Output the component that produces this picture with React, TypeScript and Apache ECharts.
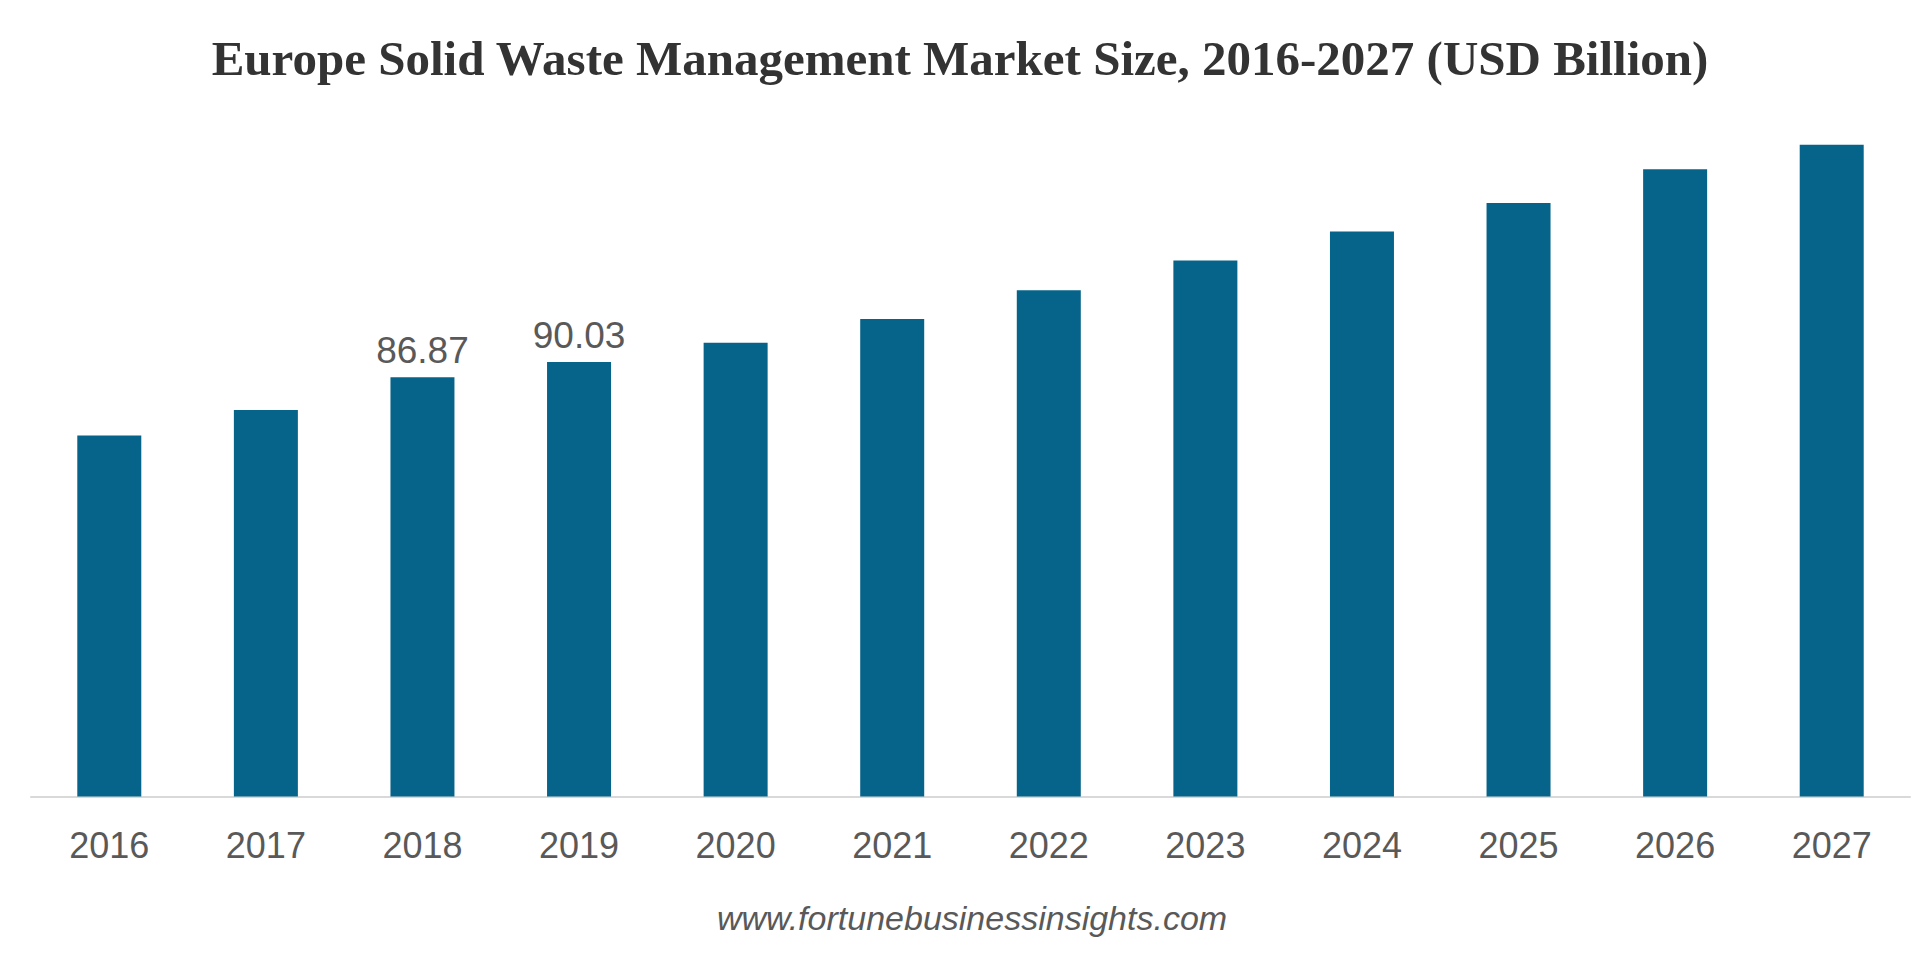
import React, { useEffect, useRef } from "react";
import * as echarts from "echarts";

const years = ["2016", "2017", "2018", "2019", "2020", "2021", "2022", "2023", "2024", "2025", "2026", "2027"];
const marketSize = [74.84, 80.1, 86.87, 90.03, 94.03, 98.94, 104.9, 111.1, 117.1, 123.0, 130.0, 135.1];
const labeledYears = ["2018", "2019"];
const titleText = "Europe Solid Waste Management Market Size, 2016-2027 (USD Billion)";
const sourceText = "www.fortunebusinessinsights.com";

export default function App() {
  const ref = useRef<HTMLDivElement>(null);
  useEffect(() => {
    if (!ref.current) return;
    const chart = echarts.init(ref.current, null, { renderer: "svg" });
    chart.setOption({
      animation: false,
      backgroundColor: "#ffffff",
      title: {
        text: titleText,
        left: "center",
        top: 29,
        textStyle: {
          fontFamily: "Liberation Serif",
          fontWeight: "bold",
          fontSize: 49,
          color: "#333333",
        },
      },
      grid: { left: 31, right: 10, top: 121, bottom: 158.5, containLabel: false },
      xAxis: {
        type: "category",
        data: years,
        axisLine: { show: true, lineStyle: { color: "#d9d9d9", width: 2 } },
        axisTick: { show: false },
        axisLabel: {
          color: "#595959",
          fontFamily: "Liberation Sans",
          fontSize: 36,
          margin: 31,
        },
      },
      yAxis: {
        type: "value",
        min: 0,
        max: 140,
        show: false,
        splitLine: { show: false },
      },
      series: [
        {
          type: "bar",
          barWidth: 64,
          itemStyle: { color: "#06648a" },
          data: marketSize.map((v, i) => ({
            value: v,
            label: {
              show: labeledYears.includes(years[i]),
              position: "top",
              distance: 8,
              color: "#595959",
              fontFamily: "Liberation Sans",
              fontSize: 37,
              formatter: (p: any) => Number(p.value).toFixed(2),
            },
          })),
        },
      ],
      graphic: [
        {
          type: "text",
          x: 972,
          y: 918,
          style: {
            text: sourceText,
            fill: "#595959",
            font: "italic 34px 'Liberation Sans'",
            textAlign: "center",
            textVerticalAlign: "middle",
          },
        },
      ],
    });
    return () => chart.dispose();
  }, []);
  return (
    <div
      ref={ref}
      style={{ position: "fixed", left: 0, top: 0, width: 1920, height: 955 }}
    />
  );
}
